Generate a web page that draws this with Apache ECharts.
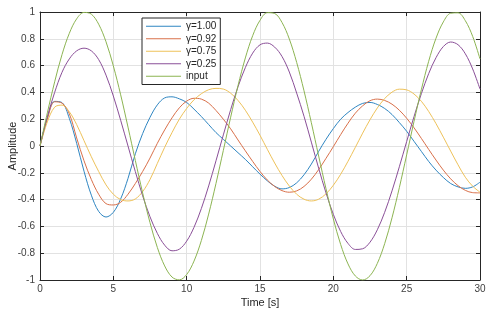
<!DOCTYPE html>
<html>
<head>
<meta charset="utf-8">
<script src="https://cdn.jsdelivr.net/npm/echarts@6/dist/echarts.min.js"></script>
<style>
html,body{margin:0;padding:0;background:#fff;}
#chart{width:500px;height:316px;}
</style>
</head>
<body>
<div id="chart"></div>
<script>
// time samples [s]
const times = [0,0.5,1,1.5,2,2.5,3,3.5,4,4.5,5,5.5,6,6.5,7,7.5,8,8.5,9,9.5,10,10.5,11,11.5,12,12.5,13,13.5,14,14.5,15,15.5,16,16.5,17,17.5,18,18.5,19,19.5,20,20.5,21,21.5,22,22.5,23,23.5,24,24.5,25,25.5,26,26.5,27,27.5,28,28.5,29,29.5,30];

const gamma100 = [0,0.21,0.333,0.324,0.206,0.02,-0.188,-0.367,-0.488,-0.53,-0.495,-0.395,-0.242,-0.058,0.093,0.214,0.307,0.359,0.367,0.352,0.325,0.275,0.22,0.16,0.10,0.05,0.0,-0.05,-0.10,-0.155,-0.21,-0.26,-0.30,-0.32,-0.31,-0.275,-0.215,-0.135,-0.04,0.05,0.13,0.20,0.25,0.29,0.318,0.325,0.31,0.28,0.235,0.175,0.11,0.035,-0.04,-0.115,-0.18,-0.235,-0.28,-0.305,-0.316,-0.305,-0.27];

const gamma092 = [0,0.20,0.33,0.32,0.24,0.06,-0.11,-0.25,-0.36,-0.43,-0.44,-0.42,-0.36,-0.28,-0.19,-0.09,0.02,0.12,0.21,0.285,0.335,0.356,0.35,0.32,0.265,0.20,0.128,0.045,-0.036,-0.115,-0.19,-0.254,-0.302,-0.333,-0.345,-0.335,-0.302,-0.248,-0.176,-0.092,-0.005,0.085,0.17,0.245,0.30,0.338,0.35,0.34,0.312,0.267,0.207,0.136,0.057,-0.025,-0.105,-0.18,-0.245,-0.296,-0.331,-0.348,-0.35];

const gamma075 = [0,0.18,0.29,0.305,0.255,0.16,0.04,-0.08,-0.19,-0.29,-0.36,-0.40,-0.41,-0.395,-0.34,-0.25,-0.13,-0.01,0.10,0.20,0.28,0.345,0.39,0.42,0.43,0.425,0.394,0.34,0.267,0.178,0.08,-0.025,-0.127,-0.22,-0.299,-0.36,-0.397,-0.41,-0.397,-0.357,-0.293,-0.211,-0.114,-0.01,0.096,0.196,0.284,0.354,0.402,0.424,0.419,0.388,0.334,0.258,0.167,0.066,-0.038,-0.14,-0.233,-0.30,-0.345];

const gamma025 = [0,0.22,0.40,0.55,0.65,0.71,0.73,0.71,0.645,0.529,0.373,0.192,0.0,-0.191,-0.372,-0.528,-0.652,-0.74,-0.782,-0.77,-0.71,-0.607,-0.467,-0.298,-0.11,0.083,0.271,0.442,0.585,0.693,0.755,0.768,0.738,0.668,0.552,0.395,0.222,0.029,-0.166,-0.35,-0.51,-0.638,-0.727,-0.772,-0.767,-0.718,-0.625,-0.495,-0.335,-0.155,0.033,0.219,0.39,0.54,0.659,0.742,0.776,0.756,0.688,0.575,0.425];

const inputSignal = [0,0.247,0.479,0.682,0.841,0.949,0.997,0.984,0.909,0.778,0.598,0.382,0.141,-0.108,-0.351,-0.572,-0.757,-0.895,-0.978,-0.999,-0.959,-0.859,-0.706,-0.508,-0.279,-0.033,0.215,0.450,0.657,0.823,0.938,0.995,0.989,0.922,0.798,0.624,0.412,0.174,-0.075,-0.319,-0.544,-0.735,-0.880,-0.970,-1.000,-0.968,-0.876,-0.729,-0.536,-0.311,-0.066,0.183,0.420,0.632,0.804,0.926,0.991,0.994,0.935,0.818,0.650];

const seriesNames = ['γ=1.00','γ=0.92','γ=0.75','γ=0.25','input'];
const seriesValues = [gamma100, gamma092, gamma075, gamma025, inputSignal];
const seriesColors = ['#2f86c2','#d9704a','#eec25a','#8a4f98','#8cb452'];

const xTicks = {min:0, max:30, interval:5};
const yTicks = {min:-1, max:1, interval:0.2};

const axisColor = '#262626';
const labelColor = '#404040';
const fontFamily = '"Liberation Sans", Arial, Helvetica, sans-serif';

const chart = echarts.init(document.getElementById('chart'), null, {renderer:'canvas'});

const option = {
  animation: false,
  backgroundColor: '#ffffff',
  textStyle: {fontFamily: fontFamily},
  grid: {left: 40, right: 20, top: 12, bottom: 36, containLabel: false, outerBoundsMode: 'none'},
  legend: {
    orient: 'vertical',
    left: 142,
    top: 18,
    padding: [2, 4, 2, 4],
    itemGap: 0,
    itemWidth: 35,
    itemHeight: 1.2,
    icon: 'rect',
    backgroundColor: '#ffffff',
    borderColor: axisColor,
    borderWidth: 1,
    borderRadius: 0,
    data: seriesNames,
    textStyle: {fontSize: 10, color: '#262626', lineHeight: 12.5, fontFamily: fontFamily}
  },
  xAxis: [
    {
      type: 'value', min: xTicks.min, max: xTicks.max, interval: xTicks.interval,
      position: 'bottom',
      name: 'Time [s]', nameLocation: 'middle', nameGap: 17, nameMoveOverlap: false,
      nameTextStyle: {fontSize: 11, color: '#262626'},
      axisLine: {show: true, onZero: false, lineStyle: {color: axisColor, width: 1}},
      axisTick: {show: true, inside: true, length: 4, lineStyle: {color: axisColor}},
      axisLabel: {fontSize: 10, color: labelColor, margin: 4},
      splitLine: {show: true, lineStyle: {color: '#e2e2e2', width: 1}}
    },
    {
      type: 'value', min: xTicks.min, max: xTicks.max, interval: xTicks.interval,
      position: 'top',
      axisLine: {show: true, onZero: false, lineStyle: {color: axisColor, width: 1}},
      axisTick: {show: true, inside: true, length: 4, lineStyle: {color: axisColor}},
      axisLabel: {show: false},
      splitLine: {show: false}
    }
  ],
  yAxis: [
    {
      type: 'value', min: yTicks.min, max: yTicks.max, interval: yTicks.interval,
      position: 'left',
      name: 'Amplitude', nameLocation: 'middle', nameGap: 22, nameMoveOverlap: false,
      nameTextStyle: {fontSize: 11, color: '#262626'},
      axisLine: {show: true, onZero: false, lineStyle: {color: axisColor, width: 1}},
      axisTick: {show: true, inside: true, length: 4, lineStyle: {color: axisColor}},
      axisLabel: {fontSize: 10, color: labelColor, margin: 5},
      splitLine: {show: true, lineStyle: {color: '#e2e2e2', width: 1}}
    },
    {
      type: 'value', min: yTicks.min, max: yTicks.max, interval: yTicks.interval,
      position: 'right',
      axisLine: {show: true, onZero: false, lineStyle: {color: axisColor, width: 1}},
      axisTick: {show: true, inside: true, length: 4, lineStyle: {color: axisColor}},
      axisLabel: {show: false},
      splitLine: {show: false}
    }
  ],
  series: seriesNames.map((name, i) => ({
    name: name,
    type: 'line',
    xAxisIndex: 0,
    yAxisIndex: 0,
    showSymbol: false,
    symbol: 'none',
    smooth: 0.35,
    lineStyle: {width: 1, color: seriesColors[i]},
    itemStyle: {color: seriesColors[i]},
    data: times.map((t, k) => [t, seriesValues[i][k]])
  }))
};

chart.setOption(option);
</script>
</body>
</html>
